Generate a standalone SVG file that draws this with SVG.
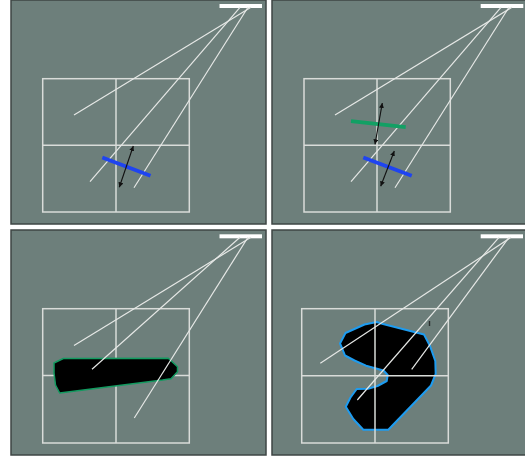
<svg xmlns="http://www.w3.org/2000/svg" width="525" height="459" viewBox="0 0 525 459">
<defs>
<style>
.panel{fill:#6d7f7b;stroke:#3e4644;stroke-width:1.5}
.grid{fill:none;stroke:#d9dcd9;stroke-width:1.5}
.ray{stroke:#e6e8e6;stroke-width:1.2;fill:none}
.bar{fill:#ffffff}
.blue{stroke:#1f44f0;stroke-width:3.8;fill:none}
.green{stroke:#12a064;stroke-width:3.8;fill:none}
.arrow{stroke:#111;stroke-width:1.1;fill:none;marker-start:url(#ah);marker-end:url(#ah)}
.shape3{fill:#000;stroke:#139a60;stroke-width:1.5;stroke-linejoin:round}
.shape4{fill:#000;stroke:#1e9cf0;stroke-width:2;stroke-linejoin:round}
</style>
<marker id="ah" viewBox="0 0 10 10" refX="10" refY="5" markerWidth="5" markerHeight="5" markerUnits="userSpaceOnUse" orient="auto-start-reverse">
<path d="M0,0 L10,5 L0,10 z" fill="#111"/>
</marker>
</defs>
<rect x="0" y="0" width="525" height="459" fill="#ffffff"/>

<g id="panel1">
<rect class="panel" x="11" y="0" width="255" height="224"/>
<rect class="grid" x="42.7" y="78.7" width="146.6" height="133.3"/>
<line class="grid" x1="116" y1="78.7" x2="116" y2="212"/>
<line class="grid" x1="42.7" y1="145.3" x2="189.3" y2="145.3"/>
<rect class="bar" x="219.5" y="4" width="42.5" height="4"/>
<g class="rays">
<line class="ray" x1="74" y1="115" x2="251" y2="7.3"/>
<line class="ray" x1="90" y1="181.7" x2="240" y2="7.3"/>
<line class="ray" x1="134" y1="187.7" x2="248" y2="7.3"/>
</g>
<line class="blue" x1="102.3" y1="157.5" x2="150.5" y2="175.7"/>
<line class="arrow" x1="133.3" y1="146" x2="119.3" y2="187.3"/>
</g>

<g id="panel2">
<rect class="panel" x="272" y="0" width="254" height="224"/>
<rect class="grid" x="304" y="78.7" width="146.3" height="133.3"/>
<line class="grid" x1="377" y1="78.7" x2="377" y2="212"/>
<line class="grid" x1="304" y1="145.3" x2="450.3" y2="145.3"/>
<rect class="bar" x="480.7" y="4" width="42.6" height="4"/>
<g class="rays">
<line class="ray" x1="335" y1="115" x2="512" y2="7.3"/>
<line class="ray" x1="351" y1="181.7" x2="501" y2="7.3"/>
<line class="ray" x1="395" y1="187.7" x2="509" y2="7.3"/>
</g>
<line class="green" x1="351" y1="121.2" x2="405.7" y2="127.2"/>
<line class="blue" x1="363.3" y1="157.5" x2="411.7" y2="175.7"/>
<line class="arrow" x1="382.3" y1="103" x2="375" y2="144.3"/>
<line class="arrow" x1="394.3" y1="151" x2="380.7" y2="186.3"/>
</g>

<g id="panel3">
<rect class="panel" x="11" y="230" width="255" height="225"/>
<rect class="grid" x="42.7" y="308.7" width="146.6" height="134.3"/>
<line class="grid" x1="116" y1="308.7" x2="116" y2="443"/>
<line class="grid" x1="42.7" y1="375.5" x2="189.3" y2="375.5"/>
<rect class="bar" x="219.5" y="234.3" width="42.5" height="4"/>
<polygon class="shape3" points="54,363 63.3,358.5 168.3,358.3 177.5,366.7 177.5,371.7 171,378.7 162.5,380 59.7,393 55.5,385 54,373"/>
<g class="rays">
<line class="ray" x1="74" y1="345.5" x2="251" y2="237.3"/>
<line class="ray" x1="92" y1="369.3" x2="240" y2="237.3"/>
<line class="ray" x1="134.3" y1="418" x2="248" y2="237.3"/>
</g>
</g>

<g id="panel4">
<rect class="panel" x="272" y="230" width="254" height="225"/>
<polygon class="shape4" points="340,343.5 345.5,333 364.5,324.5 376.7,322 383,324 424,334.5 430,346 435.3,361 435.7,374 431,385.5 388.3,429.7 363.3,429.7 353.3,419 345.8,406.7 350.5,397.5 356.7,389 368,388.8 377.5,386 386.7,381 387.7,375 383.5,370.5 366,365.7 354.5,360.5 345,355.5 342,348"/>
<rect class="grid" x="301.7" y="308.7" width="146.6" height="134.3"/>
<line class="grid" x1="375" y1="308.7" x2="375" y2="443"/>
<line class="grid" x1="301.7" y1="375.7" x2="448.3" y2="375.7"/>
<rect class="bar" x="480.7" y="234.3" width="42.3" height="4"/>
<g class="rays">
<line class="ray" x1="320.3" y1="363.3" x2="511" y2="237.3"/>
<line class="ray" x1="357.3" y1="400" x2="499" y2="237.3"/>
<line class="ray" x1="411.7" y1="369.3" x2="509" y2="237.3"/>
</g>
<rect x="428.8" y="321" width="1.4" height="5" fill="#2a2e2d"/>
</g>
</svg>
